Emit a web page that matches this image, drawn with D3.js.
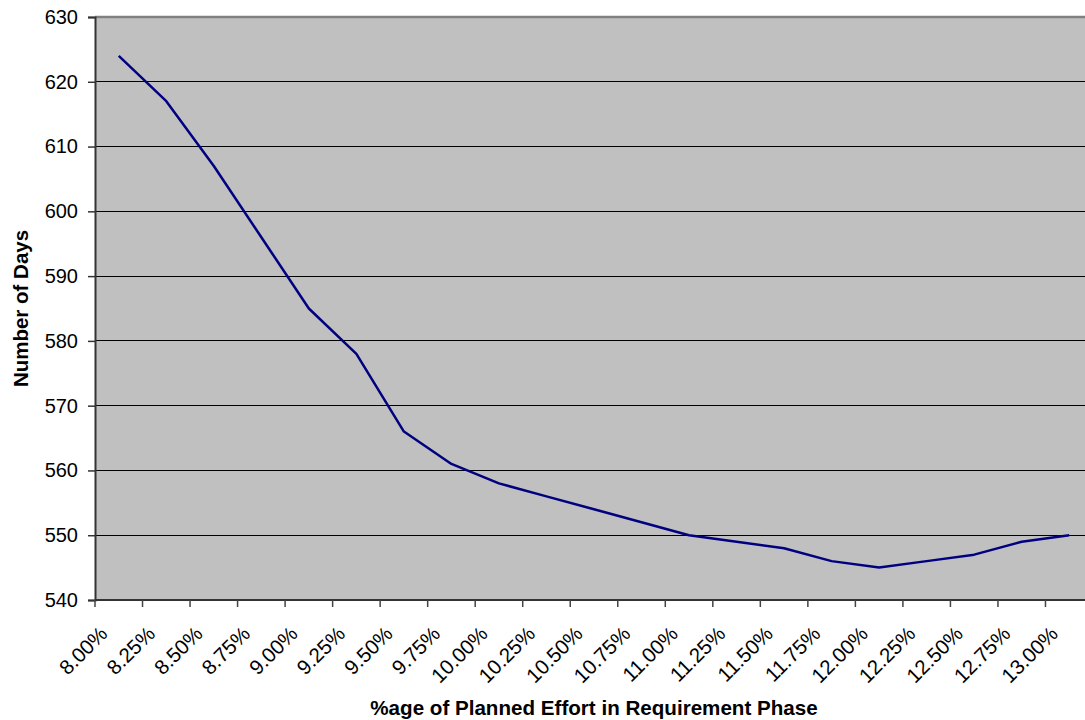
<!DOCTYPE html>
<html>
<head>
<meta charset="utf-8">
<script src="https://cdn.jsdelivr.net/npm/d3@7"></script>
<style>
  html, body { margin: 0; padding: 0; background: #ffffff; }
  svg { display: block; font-family: Arial, "Liberation Sans", sans-serif; }
</style>
</head>
<body>
<svg id="chart" width="1085" height="720"></svg>
<script>
const categories = ["8.00%","8.25%","8.50%","8.75%","9.00%","9.25%","9.50%","9.75%","10.00%","10.25%","10.50%","10.75%","11.00%","11.25%","11.50%","11.75%","12.00%","12.25%","12.50%","12.75%","13.00%"];
const days = [624, 617, 607, 596, 585, 578, 566, 561, 558, 556, 554, 552, 550, 549, 548, 546, 545, 546, 547, 549, 550];
const yTicks = [540, 550, 560, 570, 580, 590, 600, 610, 620, 630];
const xTitle = "%age of Planned Effort in Requirement Phase";
const yTitle = "Number of Days";

const svg = d3.select("#chart");
const plot = { left: 95, right: 1093, top: 17, bottom: 600 };

const x = d3.scaleBand().domain(categories).range([plot.left, plot.right]).paddingInner(0).paddingOuter(0);
const y = d3.scaleLinear().domain([540, 630]).range([plot.bottom, plot.top]);

// plot background
svg.append("rect")
  .attr("x", plot.left).attr("y", plot.top)
  .attr("width", plot.right - plot.left).attr("height", plot.bottom - plot.top)
  .attr("fill", "#c0c0c0");

// gridlines
svg.append("g").selectAll("line")
  .data(yTicks.filter(d => d > 540 && d < 630))
  .join("line")
  .attr("x1", plot.left).attr("x2", plot.right)
  .attr("y1", d => y(d)).attr("y2", d => y(d))
  .attr("stroke", "#000").attr("stroke-width", 1).attr("shape-rendering", "crispEdges");

// top border
svg.append("line")
  .attr("x1", plot.left).attr("x2", plot.right)
  .attr("y1", y(630)).attr("y2", y(630))
  .attr("stroke", "#808080").attr("stroke-width", 2.5);

// y axis
const yAxis = d3.axisLeft(y).tickValues(yTicks).tickSize(7).tickPadding(10).tickFormat(d3.format("d"));
const gy = svg.append("g").attr("transform", `translate(${plot.left},0)`).call(yAxis);
gy.select(".domain").attr("stroke", "#333").attr("stroke-width", 2);
gy.selectAll(".tick line").attr("stroke", "#333").attr("stroke-width", 1.5);
gy.selectAll(".tick text").attr("font-size", 20).attr("fill", "#000")
  .attr("font-family", "Arial, 'Liberation Sans', sans-serif");

// x axis ticks at category boundaries
const boundaries = categories.map(c => x(c)).concat([x(categories[categories.length - 1]) + x.bandwidth()]);
const gx = svg.append("g");
gx.append("line")
  .attr("x1", plot.left).attr("x2", plot.right)
  .attr("y1", plot.bottom).attr("y2", plot.bottom)
  .attr("stroke", "#333").attr("stroke-width", 2);
gx.selectAll("line.tk").data(boundaries).join("line").attr("class", "tk")
  .attr("x1", d => d).attr("x2", d => d)
  .attr("y1", plot.bottom).attr("y2", plot.bottom + 7)
  .attr("stroke", "#444").attr("stroke-width", 1.5);
gx.selectAll("text").data(categories).join("text")
  .attr("transform", d => `translate(${x(d) + x.bandwidth() / 2 - 10},${plot.bottom + 35}) rotate(-45)`)
  .attr("text-anchor", "end")
  .attr("font-size", 20.5)
  .attr("fill", "#000")
  .text(d => d);

// line
const line = d3.line()
  .x((d, i) => x(categories[i]) + x.bandwidth() / 2)
  .y(d => y(d));
svg.append("path")
  .datum(days)
  .attr("d", line)
  .attr("fill", "none")
  .attr("stroke", "#000080")
  .attr("stroke-width", 2.5)
  .attr("stroke-linejoin", "round");

// axis titles
svg.append("text")
  .attr("x", (plot.left + 1085) / 2 + 4).attr("y", 715)
  .attr("text-anchor", "middle")
  .attr("font-size", 20.6).attr("font-weight", "bold")
  .text(xTitle);

svg.append("text")
  .attr("transform", `translate(28,${(plot.top + plot.bottom) / 2}) rotate(-90)`)
  .attr("text-anchor", "middle")
  .attr("font-size", 20.5).attr("font-weight", "bold")
  .text(yTitle);
</script>
</body>
</html>
